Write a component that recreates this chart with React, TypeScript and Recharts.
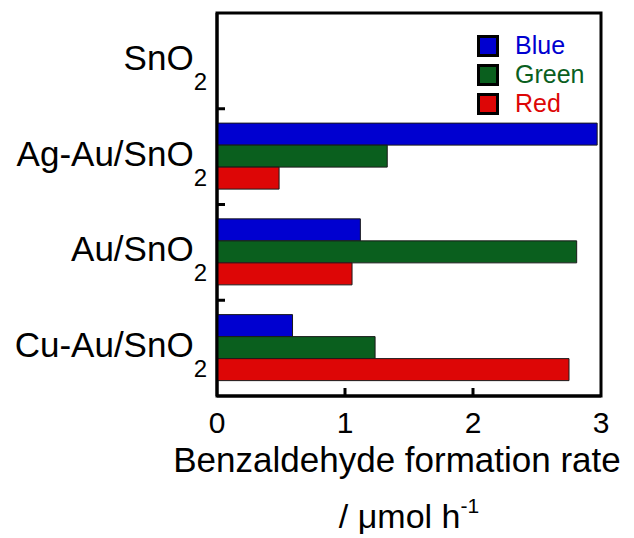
import { Bar, BarChart, Label, Legend, ReferenceArea, XAxis, YAxis } from "recharts"

const categories = ["SnO2", "Ag-Au/SnO2", "Au/SnO2", "Cu-Au/SnO2"]
const categoryStems = ["SnO", "Ag-Au/SnO", "Au/SnO", "Cu-Au/SnO"]
const blueRate = [null, 2.97, 1.12, 0.59]
const greenRate = [null, 1.33, 2.81, 1.235]
const redRate = [null, 0.485, 1.055, 2.75]
const xTicks = [0, 1, 2, 3]
const seriesKeys = ["blue", "green", "red"]
const seriesNames = ["Blue", "Green", "Red"]
const seriesColors = ["#0000d0", "#0a5f1e", "#dd0606"]

const data = categories.map((name, i) => ({
  name,
  blue: blueRate[i],
  green: greenRate[i],
  red: redRate[i],
}))

const FONT = "'Liberation Sans', Arial, Helvetica, sans-serif"

function CategoryTick(props: any) {
  const { x, y, payload, index } = props
  const half = payload.offset ?? 0
  const last = index === categories.length - 1
  return (
    <g>
      <text x={x - 10} y={y + 9} textAnchor="end" fontFamily={FONT} fontSize={35} fill="#000">
        {categoryStems[index]}
        <tspan fontSize={24} dy={20}>2</tspan>
      </text>
      {!last && <line x1={x} x2={x + 8} y1={y + half} y2={y + half} stroke="#000" strokeWidth={3} />}
    </g>
  )
}

function RateTick(props: any) {
  const { x, y, payload, index } = props
  const inner = index > 0 && index < xTicks.length - 1
  return (
    <g>
      {inner && <line x1={x} x2={x} y1={y} y2={y - 8} stroke="#000" strokeWidth={3} />}
      <text x={x} y={y + 37} textAnchor="middle" fontFamily={FONT} fontSize={30} fill="#000">
        {payload.value}
      </text>
    </g>
  )
}

function AxisTitle(props: any) {
  const { viewBox } = props
  const cx = viewBox.x + viewBox.width / 2
  const top = viewBox.y
  return (
    <g fontFamily={FONT} fill="#000">
      <text x={cx - 12} y={top + 76} textAnchor="middle" fontSize={35}>
        Benzaldehyde formation rate
      </text>
      <text x={cx} y={top + 132} textAnchor="middle" fontSize={34}>
        / μmol h<tspan fontSize={21} dy={-15}>-1</tspan>
      </text>
    </g>
  )
}

function LegendBox() {
  return (
    <div style={{ fontFamily: FONT }}>
      {seriesNames.map((name, i) => (
        <div key={name} style={{ display: "flex", alignItems: "center", height: 29 }}>
          <div
            style={{
              width: 22,
              height: 22,
              boxSizing: "border-box",
              border: "3px solid #000",
              background: seriesColors[i],
            }}
          />
          <span style={{ marginLeft: 16, fontSize: 25, color: seriesColors[i], lineHeight: "29px" }}>{name}</span>
        </div>
      ))}
    </div>
  )
}

export default function App() {
  return (
    <div style={{ position: "absolute", left: 0, top: 0, background: "#fff", fontFamily: FONT }}>
      <BarChart
        width={634}
        height={538}
        data={data}
        layout="vertical"
        margin={{ top: 13, right: 33, left: 0, bottom: 0 }}
        barCategoryGap="15%"
        barGap={0}
      >
        <XAxis
          type="number"
          domain={[0, 3]}
          ticks={xTicks}
          height={142}
          tickSize={0}
          tickMargin={0}
          tickLine={false}
          axisLine={{ stroke: "#000", strokeWidth: 3 }}
          tick={<RateTick />}
          interval={0}
        >
          <Label content={<AxisTitle />} />
        </XAxis>
        <YAxis
          type="category"
          dataKey="name"
          width={217}
          tickSize={0}
          tickMargin={0}
          tickLine={false}
          axisLine={{ stroke: "#000", strokeWidth: 3 }}
          tick={<CategoryTick />}
          interval={0}
        />
        <Legend
          layout="vertical"
          align="center"
          verticalAlign="middle"
          content={<LegendBox />}
          wrapperStyle={{ left: 477, top: 31, width: 140 }}
        />
        {seriesKeys.map((key, i) => (
          <Bar
            key={key}
            dataKey={key}
            name={seriesNames[i]}
            fill={seriesColors[i]}
            stroke="#1a1a1a"
            strokeWidth={1}
            isAnimationActive={false}
          />
        ))}
        <ReferenceArea
          x1={0}
          x2={3}
          fill="none"
          fillOpacity={0}
          stroke="#000"
          strokeWidth={3}
          ifOverflow="visible"
        />
      </BarChart>
    </div>
  )
}
